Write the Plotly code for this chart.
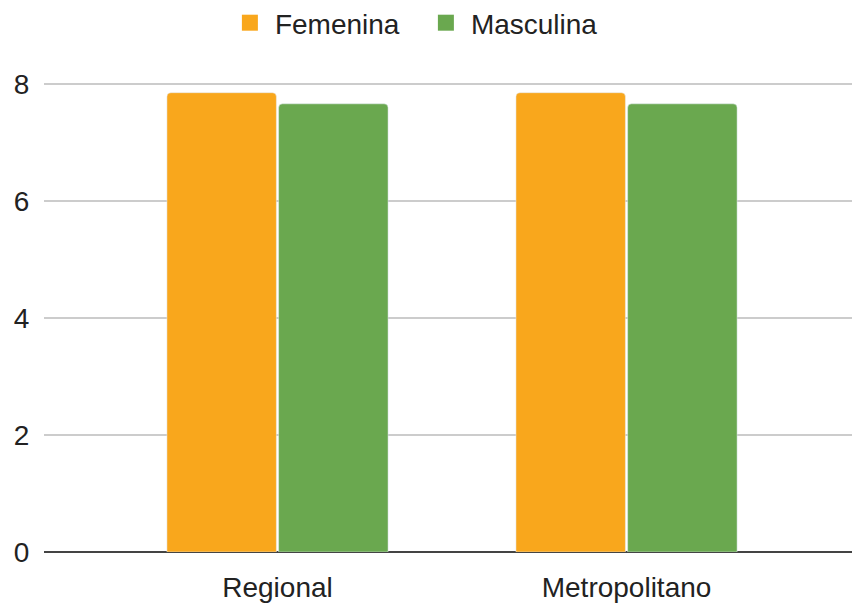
import plotly.graph_objects as go

categories = ["Regional", "Metropolitano"]
femenina = [7.85, 7.85]
masculina = [7.66, 7.66]
y_ticks = [0, 2, 4, 6, 8]

ORANGE = "#F9A71C"
GREEN = "#6AA84F"
FONT = "Liberation Sans, Arial, sans-serif"

fig = go.Figure()
fig.add_trace(go.Bar(name="Femenina", x=categories, y=femenina,
                     marker=dict(color=ORANGE, cornerradius=4), showlegend=False))
fig.add_trace(go.Bar(name="Masculina", x=categories, y=masculina,
                     marker=dict(color=GREEN, cornerradius=4), showlegend=False))
# legend entries
fig.add_trace(go.Scatter(name="Femenina", x=[None], y=[None], mode="markers",
                         marker=dict(symbol="square", size=16, color=ORANGE)))
fig.add_trace(go.Scatter(name="Masculina", x=[None], y=[None], mode="markers",
                         marker=dict(symbol="square", size=16, color=GREEN)))

fig.update_layout(
    width=852, height=604,
    margin=dict(l=44, r=0, t=81, b=52, autoexpand=False),
    paper_bgcolor="white", plot_bgcolor="white",
    barmode="group", bargap=0.36, bargroupgap=0.02,
    font=dict(family=FONT, size=28, color="#222222"),
    legend=dict(orientation="h", xref="container", yref="container",
                x=0.494, xanchor="center", y=1 - 23 / 604, yanchor="middle",
                font=dict(size=28, color="#222222"), itemwidth=40, entrywidth=141,
                bgcolor="rgba(0,0,0,0)"),
    xaxis=dict(type="category", range=[-0.669, 1.646], showgrid=False, automargin=False,
               showline=False, ticks="outside", ticklen=10, tickcolor="rgba(0,0,0,0)",
               tickfont=dict(size=28, color="#222222")),
    yaxis=dict(range=[0, 8.05], tickvals=y_ticks, showgrid=True, gridcolor="#CCCCCC",
               gridwidth=1.5, zeroline=True, zerolinecolor="#444444", zerolinewidth=1.5,
               ticks="outside", ticklen=8, tickcolor="rgba(0,0,0,0)", automargin=False,
               tickfont=dict(size=28, color="#222222"), showline=False),
)

fig.write_html("out.html", config={"displayModeBar": False},
               post_script="document.body.style.margin='0';document.body.style.overflow='hidden';")
